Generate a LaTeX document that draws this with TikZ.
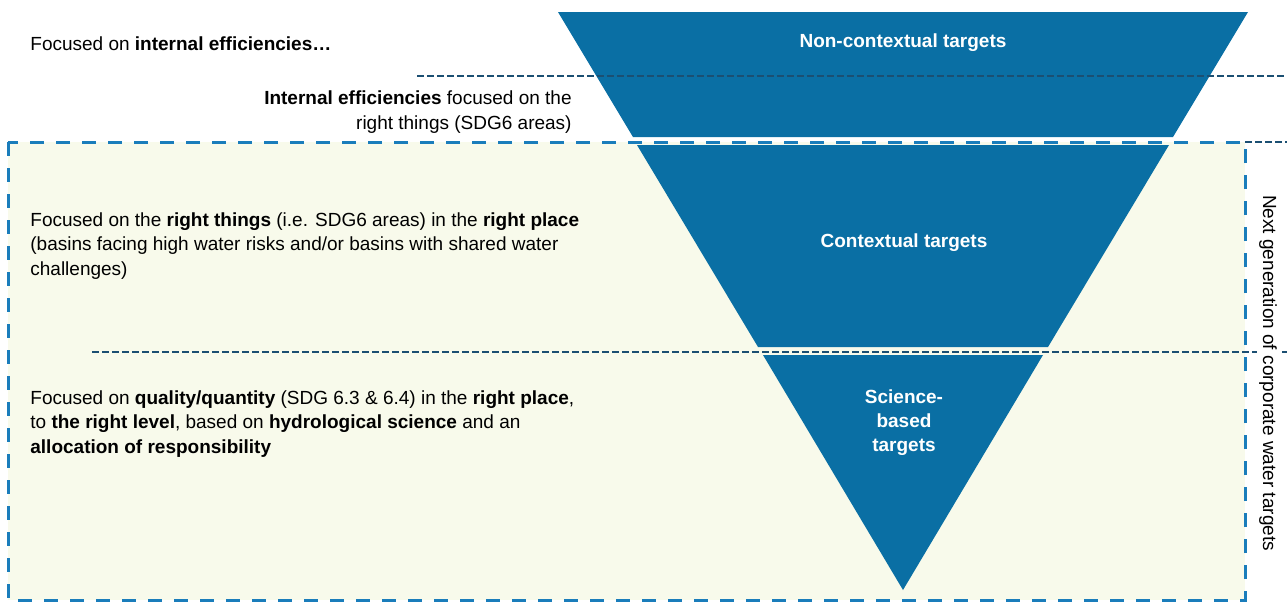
\documentclass[tikz,border=0pt]{standalone}
\usepackage{fontspec}
\setmainfont{Liberation Sans}
\definecolor{funnelblue}{HTML}{0A6FA4}
\definecolor{boxfill}{HTML}{F8FAEB}
\definecolor{boxline}{HTML}{1A7DBB}
\definecolor{dividerline}{HTML}{1B4F72}
\tikzset{
  layer/.style={fill=funnelblue},
  layerlabel/.style={text=white, font=\fontsize{9.5}{12}\selectfont\bfseries, align=center},
  sidenote/.style={font=\fontsize{9.5}{12.25}\selectfont, align=left, anchor=west, inner sep=0pt},
  divider/.style={draw=dividerline, line width=1pt, dash pattern=on 3.5pt off 1.5pt},
  targetbox/.style={fill=boxfill, draw=boxline, line width=1.5pt, dash pattern=on 7pt off 6pt}
}
\begin{document}
\begin{tikzpicture}[x=0.5pt, y=-0.5pt]
    \useasboundingbox (0,0) rectangle (1287,612);
    % next generation box
    \draw[targetbox] (8,142) rectangle (1245,600);
    \draw[divider] (1245,142) -- (1287,142);
    % funnel
    \fill[layer] (558,12) -- (1248,12) -- (1173,137) -- (633,137) -- cycle;
    \fill[layer] (637,145) -- (1169,145) -- (1048,347) -- (758,347) -- cycle;
    \fill[layer] (763,355) -- (1043,355) -- (903,590) -- cycle;
    \draw[divider] (417,76) -- (1287,76);
    \draw[divider] (92,352) -- (1287,352);
    \node[layerlabel] at (903,43) (L1) {Non-contextual targets};
    \node[layerlabel] at (904,243) (L2) {Contextual targets};
    \node[layerlabel] at (904,423) (L3) {Science-\\based\\targets};
    % notes on the left
    \node[sidenote] at (30,44) (N1) {Focused on \textbf{internal efficiencies\ldots}};
    \node[sidenote, anchor=east, align=right] at (572,112) (N2) {\textbf{Internal efficiencies} focused on the\\right things (SDG6 areas)};
    \node[sidenote] at (30,246) (N3) {Focused on the \textbf{right things} (i.e. SDG6 areas) in the \textbf{right place}\\(basins facing high water risks and/or basins with shared water\\challenges)};
    \node[sidenote] at (30,424) (N4) {Focused on \textbf{quality/quantity} (SDG 6.3 \& 6.4) in the \textbf{right place},\\to \textbf{the right level}, based on \textbf{hydrological science} and an\\\textbf{allocation of responsibility}};
    \node[sidenote, anchor=center, rotate=-90, fill=white, inner sep=1pt] at (1268,373) (NG) {Next generation of corporate water targets};
\end{tikzpicture}
\end{document}
